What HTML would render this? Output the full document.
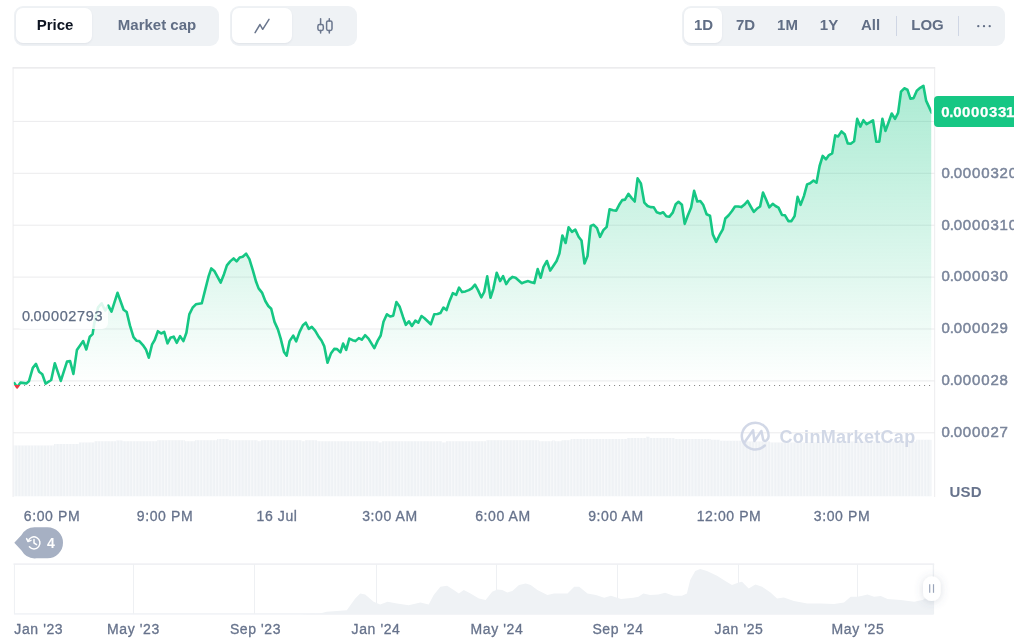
<!DOCTYPE html>
<html lang="en"><head><meta charset="utf-8"><title>Price chart</title>
<style>
html,body{margin:0;padding:0;background:#fff;}
body{width:1017px;height:642px;overflow:hidden;position:relative;font-family:"Liberation Sans",sans-serif;}
.seg{position:absolute;top:6px;height:40px;background:#eff2f5;border-radius:9px;box-sizing:border-box;}
.pill{position:absolute;top:2px;height:35px;background:#fff;border-radius:7px;box-shadow:0 1px 2px rgba(88,102,126,.10);}
.lbl{position:absolute;top:0;height:40px;line-height:38px;font-size:15px;font-weight:bold;color:#616e85;white-space:nowrap;transform:translateX(-50%);}
.dark{color:#0d1421;}
.div{position:absolute;top:10px;height:20px;width:1px;background:#cfd6e4;}
svg{position:absolute;left:0;top:0;}
.seg,svg{will-change:transform;}
svg text{font-family:"Liberation Sans",sans-serif;}
</style></head><body>

<div class="seg" style="left:14px;width:205px;">
  <div class="pill" style="left:2px;width:76px;"></div>
  <span class="lbl dark" style="left:41px;">Price</span>
  <span class="lbl" style="left:143px;">Market cap</span>
</div>
<div class="seg" style="left:230px;width:127px;">
  <div class="pill" style="left:2px;width:60px;"></div>
</div>
<div class="seg" style="left:682px;width:323px;">
  <div class="pill" style="left:2px;width:38px;"></div>
  <span class="lbl" style="left:21.5px;">1D</span>
  <span class="lbl" style="left:63.5px;">7D</span>
  <span class="lbl" style="left:105.5px;">1M</span>
  <span class="lbl" style="left:147px;">1Y</span>
  <span class="lbl" style="left:188.5px;">All</span>
  <div class="div" style="left:214px;"></div>
  <span class="lbl" style="left:245.5px;">LOG</span>
  <div class="div" style="left:276px;"></div>
</div>

<svg width="1017" height="642" viewBox="0 0 1017 642">
  <defs>
    <linearGradient id="ag" x1="0" y1="68" x2="0" y2="385" gradientUnits="userSpaceOnUse">
      <stop offset="0" stop-color="#16c784" stop-opacity="0.38"/>
      <stop offset="1" stop-color="#16c784" stop-opacity="0"/>
    </linearGradient>
    <pattern id="vb" x="14" y="0" width="3.19" height="10" patternUnits="userSpaceOnUse">
      <rect x="0" y="0" width="1.1" height="10" fill="#fff" fill-opacity="0.5"/>
    </pattern>
    <clipPath id="above"><rect x="13.8" y="0" width="917.6" height="385"/></clipPath>
    <clipPath id="below"><rect x="13.8" y="385" width="917.6" height="100"/></clipPath>
    <filter id="sh" x="-50%" y="-50%" width="200%" height="200%"><feDropShadow dx="0" dy="1" stdDeviation="4" flood-color="#58667e" flood-opacity="0.22"/></filter>
  </defs>

  <!-- chart frame -->
  <g stroke="#ececee" stroke-width="1" fill="none">
    <line x1="12.6" x2="935.2" y1="67.9" y2="67.9" stroke="#e6e6e8" stroke-width="1.3"/>
    <line x1="13.1" x2="13.1" y1="67.5" y2="497"/>
    <line x1="934.7" x2="934.7" y1="67.5" y2="497"/>
    <g stroke="#ebebed"><line x1="13" x2="935" y1="121.4" y2="121.4"/><line x1="13" x2="935" y1="173.3" y2="173.3"/><line x1="13" x2="935" y1="225.2" y2="225.2"/><line x1="13" x2="935" y1="277.1" y2="277.1"/><line x1="13" x2="935" y1="329.0" y2="329.0"/><line x1="13" x2="935" y1="380.9" y2="380.9"/><line x1="13" x2="935" y1="432.8" y2="432.8"/></g>
  </g>

  <!-- volume -->
  <path d="M13.5,496.3 L13.5,445.4 L54,445.4 L54,444 L79,444 L79,442.6 L94.5,442.6 L94.5,441.3 L116,441.3 L116,440.4 L122.5,440.4 L122.5,441.3 L157,441.3 L157,440.2 L185,440.2 L185,441.3 L195,441.3 L195,440.2 L217,440.2 L217,439 L229,439 L229,440.2 L257.5,440.2 L257.5,441.3 L261,441.3 L261,440.2 L301.5,440.2 L301.5,441.3 L305,441.3 L305,440.2 L317,440.2 L317,441.3 L378.5,441.3 L378.5,442.4 L382,442.4 L382,441.3 L442,441.3 L442,442.4 L446,442.4 L446,441.3 L486,441.3 L486,440.2 L539,440.2 L539,441.3 L552,441.3 L552,440.6 L555,440.6 L555,441.3 L561.6,441.3 L561.6,440.2 L570.6,440.2 L570.6,439 L627,439 L627,437.9 L646,437.9 L646,436.8 L649.5,436.8 L649.5,437.9 L674.5,437.9 L674.5,439 L711,439 L711,439.8 L720,439.8 L720,440.8 L742,440.8 L742,441.6 L770,441.6 L770,442.5 L835,442.5 L835,441.6 L916,441.6 L916,439.8 L931.5,439.8 L931.5,496.3 Z" fill="#eff2f5"/>
  <path d="M13.5,496.3 L13.5,445.4 L54,445.4 L54,444 L79,444 L79,442.6 L94.5,442.6 L94.5,441.3 L116,441.3 L116,440.4 L122.5,440.4 L122.5,441.3 L157,441.3 L157,440.2 L185,440.2 L185,441.3 L195,441.3 L195,440.2 L217,440.2 L217,439 L229,439 L229,440.2 L257.5,440.2 L257.5,441.3 L261,441.3 L261,440.2 L301.5,440.2 L301.5,441.3 L305,441.3 L305,440.2 L317,440.2 L317,441.3 L378.5,441.3 L378.5,442.4 L382,442.4 L382,441.3 L442,441.3 L442,442.4 L446,442.4 L446,441.3 L486,441.3 L486,440.2 L539,440.2 L539,441.3 L552,441.3 L552,440.6 L555,440.6 L555,441.3 L561.6,441.3 L561.6,440.2 L570.6,440.2 L570.6,439 L627,439 L627,437.9 L646,437.9 L646,436.8 L649.5,436.8 L649.5,437.9 L674.5,437.9 L674.5,439 L711,439 L711,439.8 L720,439.8 L720,440.8 L742,440.8 L742,441.6 L770,441.6 L770,442.5 L835,442.5 L835,441.6 L916,441.6 L916,439.8 L931.5,439.8 L931.5,496.3 Z" fill="url(#vb)"/>

  <!-- watermark -->
  <g opacity="0.9">
    <path d="M764.8,445.5 A13.4,13.4 0 1 1 768.65,435.9 Q768.6,438.2 767,439.9 Q764.9,442 763.2,439.8 L761.4,430.9 L754.4,441 L753.1,430.2 L744.4,442.4" fill="none" stroke="#cdd4e4" stroke-width="2.5" stroke-linecap="round" stroke-linejoin="round"/>
    <text x="779.5" y="442.5" font-size="18" font-weight="bold" fill="#cdd4e4" letter-spacing="0.3">CoinMarketCap</text>
  </g>

  <!-- area + line -->
  <path d="M14.3,385.0 L14.3,383.0 L17.1,387.3 L20.5,382.6 L26.3,383.4 L28.9,381.3 L32.8,367.9 L36.0,363.9 L39.1,371.8 L42.3,374.2 L45.6,383.6 L51.2,380.0 L54.8,363.2 L60.8,380.9 L67.0,361.6 L70.1,361.1 L73.4,373.9 L76.9,350.1 L83.2,341.1 L86.3,349.5 L89.8,336.7 L92.6,334.1 L94.2,323.8 L98.1,307.3 L101.6,303.4 L105.2,310.5 L108.3,305.7 L111.5,311.7 L117.5,292.8 L123.6,309.7 L126.7,312.0 L129.9,325.4 L133.5,337.2 L136.7,340.8 L139.3,341.1 L142.9,345.1 L146.1,349.8 L148.8,357.7 L152.1,344.3 L154.7,340.0 L157.9,331.2 L161.2,333.5 L164.2,331.9 L167.5,343.3 L170.4,337.8 L173.7,336.6 L176.7,342.8 L180.1,336.1 L183.4,341.1 L186.4,332.7 L189.3,314.4 L192.6,307.7 L195.9,304.3 L201.8,303.2 L205.1,290.1 L208.5,276.7 L211.3,268.4 L214.3,270.9 L220.7,282.6 L224.0,274.2 L226.9,265.4 L230.2,261.4 L233.6,258.4 L236.6,261.4 L239.7,257.5 L242.7,256.7 L246.1,253.7 L249.4,259.2 L252.8,270.1 L256.1,281.8 L258.6,288.4 L262.0,292.6 L265.3,301.0 L268.3,306.0 L271.2,308.8 L274.5,321.9 L277.9,329.4 L280.7,338.6 L284.0,352.0 L286.7,355.6 L289.6,341.1 L293.2,335.6 L296.2,341.4 L299.6,331.9 L302.9,325.2 L305.8,322.7 L308.8,328.9 L311.8,326.9 L315.1,330.6 L318.8,336.9 L321.5,340.5 L324.2,346.1 L327.5,362.8 L330.9,353.6 L334.2,348.9 L337.1,349.1 L340.4,352.4 L343.1,343.6 L346.2,349.9 L349.3,338.6 L352.6,340.2 L355.4,341.1 L358.8,338.1 L361.8,339.7 L365.1,335.2 L368.5,338.6 L374.3,348.2 L377.7,340.6 L380.7,335.5 L383.5,321.8 L386.9,314.3 L390.2,316.5 L393.2,315.7 L396.4,302.1 L399.7,306.8 L403.1,317.2 L405.8,324.8 L408.9,321.3 L411.9,326.0 L415.3,320.7 L418.3,322.7 L421.5,316.0 L424.5,318.2 L430.8,324.3 L434.2,314.3 L437.5,314.0 L440.4,313.1 L443.4,307.6 L446.5,310.1 L449.6,300.9 L452.9,293.1 L456.2,294.8 L459.1,287.6 L462.1,292.1 L465.4,291.4 L468.8,290.1 L471.8,288.4 L475.0,284.7 L478.0,290.1 L481.3,297.3 L484.2,292.0 L487.2,276.4 L490.5,297.8 L493.4,288.6 L496.7,272.7 L500.1,281.1 L503.1,276.1 L506.2,284.1 L509.3,279.4 L512.6,276.9 L515.6,277.7 L521.8,283.3 L525.1,281.9 L528.1,281.1 L531.3,282.3 L534.3,283.1 L537.7,269.1 L540.7,277.7 L543.5,266.9 L546.9,261.0 L550.2,270.6 L553.6,265.5 L556.6,261.0 L559.4,253.5 L562.4,235.5 L565.6,243.0 L568.6,227.3 L571.9,231.8 L575.3,229.6 L578.6,236.8 L581.5,240.5 L584.5,263.5 L587.5,256.0 L590.7,225.9 L593.7,224.8 L597.0,228.1 L600.0,236.8 L603.4,230.1 L606.7,226.8 L609.6,209.2 L613.0,210.2 L616.2,210.7 L619.2,204.8 L622.2,200.1 L625.0,199.6 L628.4,193.8 L631.7,198.1 L634.7,201.5 L637.6,178.4 L640.9,183.4 L644.3,202.6 L647.6,206.0 L650.6,207.1 L653.8,207.3 L656.8,212.3 L660.2,213.5 L663.2,212.3 L666.3,216.3 L669.3,216.8 L672.7,212.7 L675.7,204.3 L678.5,201.8 L681.9,204.8 L684.7,223.9 L687.7,215.7 L691.1,207.6 L694.1,190.9 L697.3,201.5 L700.3,201.0 L703.3,205.1 L706.6,214.3 L710.0,215.7 L712.8,234.4 L716.2,241.9 L719.5,235.2 L722.8,229.4 L725.3,218.5 L728.7,215.2 L732.0,211.0 L735.0,206.5 L738.2,206.5 L741.2,207.1 L744.2,204.8 L747.6,201.0 L750.4,206.0 L753.8,211.8 L756.8,208.8 L760.1,206.5 L763.0,192.6 L766.3,200.1 L769.3,207.3 L772.7,203.8 L775.5,206.0 L778.5,207.6 L782.0,215.0 L785.0,215.3 L788.4,221.1 L791.4,221.1 L794.6,216.1 L797.6,196.9 L800.6,204.9 L803.9,196.1 L807.1,184.4 L810.1,183.2 L813.5,180.5 L816.5,182.7 L819.6,166.0 L822.7,155.9 L826.0,159.3 L829.0,155.1 L832.2,153.4 L835.2,135.4 L838.2,136.4 L841.5,131.4 L844.7,134.2 L847.7,143.4 L850.7,143.7 L854.1,141.2 L857.2,118.9 L860.3,126.6 L863.4,120.2 L866.6,124.2 L870.1,122.2 L873.0,120.3 L876.3,141.7 L879.3,141.7 L882.4,118.8 L885.5,130.9 L888.8,121.7 L891.7,113.5 L895.0,118.8 L898.1,112.9 L901.0,91.7 L904.3,88.3 L907.4,89.7 L910.4,98.6 L913.6,98.1 L916.8,90.7 L920.2,87.8 L923.4,85.8 L926.1,100.6 L931.6,112.6 L931.6,385.0 Z" fill="url(#ag)" clip-path="url(#above)"/>
  <line x1="24" x2="931" y1="385.5" y2="385.5" stroke="#8a8a8a" stroke-width="1.1" stroke-dasharray="1.1 3.9"/>
  <polyline points="14.3,383.0 17.1,387.3 20.5,382.6 26.3,383.4 28.9,381.3 32.8,367.9 36.0,363.9 39.1,371.8 42.3,374.2 45.6,383.6 51.2,380.0 54.8,363.2 60.8,380.9 67.0,361.6 70.1,361.1 73.4,373.9 76.9,350.1 83.2,341.1 86.3,349.5 89.8,336.7 92.6,334.1 94.2,323.8 98.1,307.3 101.6,303.4 105.2,310.5 108.3,305.7 111.5,311.7 117.5,292.8 123.6,309.7 126.7,312.0 129.9,325.4 133.5,337.2 136.7,340.8 139.3,341.1 142.9,345.1 146.1,349.8 148.8,357.7 152.1,344.3 154.7,340.0 157.9,331.2 161.2,333.5 164.2,331.9 167.5,343.3 170.4,337.8 173.7,336.6 176.7,342.8 180.1,336.1 183.4,341.1 186.4,332.7 189.3,314.4 192.6,307.7 195.9,304.3 201.8,303.2 205.1,290.1 208.5,276.7 211.3,268.4 214.3,270.9 220.7,282.6 224.0,274.2 226.9,265.4 230.2,261.4 233.6,258.4 236.6,261.4 239.7,257.5 242.7,256.7 246.1,253.7 249.4,259.2 252.8,270.1 256.1,281.8 258.6,288.4 262.0,292.6 265.3,301.0 268.3,306.0 271.2,308.8 274.5,321.9 277.9,329.4 280.7,338.6 284.0,352.0 286.7,355.6 289.6,341.1 293.2,335.6 296.2,341.4 299.6,331.9 302.9,325.2 305.8,322.7 308.8,328.9 311.8,326.9 315.1,330.6 318.8,336.9 321.5,340.5 324.2,346.1 327.5,362.8 330.9,353.6 334.2,348.9 337.1,349.1 340.4,352.4 343.1,343.6 346.2,349.9 349.3,338.6 352.6,340.2 355.4,341.1 358.8,338.1 361.8,339.7 365.1,335.2 368.5,338.6 374.3,348.2 377.7,340.6 380.7,335.5 383.5,321.8 386.9,314.3 390.2,316.5 393.2,315.7 396.4,302.1 399.7,306.8 403.1,317.2 405.8,324.8 408.9,321.3 411.9,326.0 415.3,320.7 418.3,322.7 421.5,316.0 424.5,318.2 430.8,324.3 434.2,314.3 437.5,314.0 440.4,313.1 443.4,307.6 446.5,310.1 449.6,300.9 452.9,293.1 456.2,294.8 459.1,287.6 462.1,292.1 465.4,291.4 468.8,290.1 471.8,288.4 475.0,284.7 478.0,290.1 481.3,297.3 484.2,292.0 487.2,276.4 490.5,297.8 493.4,288.6 496.7,272.7 500.1,281.1 503.1,276.1 506.2,284.1 509.3,279.4 512.6,276.9 515.6,277.7 521.8,283.3 525.1,281.9 528.1,281.1 531.3,282.3 534.3,283.1 537.7,269.1 540.7,277.7 543.5,266.9 546.9,261.0 550.2,270.6 553.6,265.5 556.6,261.0 559.4,253.5 562.4,235.5 565.6,243.0 568.6,227.3 571.9,231.8 575.3,229.6 578.6,236.8 581.5,240.5 584.5,263.5 587.5,256.0 590.7,225.9 593.7,224.8 597.0,228.1 600.0,236.8 603.4,230.1 606.7,226.8 609.6,209.2 613.0,210.2 616.2,210.7 619.2,204.8 622.2,200.1 625.0,199.6 628.4,193.8 631.7,198.1 634.7,201.5 637.6,178.4 640.9,183.4 644.3,202.6 647.6,206.0 650.6,207.1 653.8,207.3 656.8,212.3 660.2,213.5 663.2,212.3 666.3,216.3 669.3,216.8 672.7,212.7 675.7,204.3 678.5,201.8 681.9,204.8 684.7,223.9 687.7,215.7 691.1,207.6 694.1,190.9 697.3,201.5 700.3,201.0 703.3,205.1 706.6,214.3 710.0,215.7 712.8,234.4 716.2,241.9 719.5,235.2 722.8,229.4 725.3,218.5 728.7,215.2 732.0,211.0 735.0,206.5 738.2,206.5 741.2,207.1 744.2,204.8 747.6,201.0 750.4,206.0 753.8,211.8 756.8,208.8 760.1,206.5 763.0,192.6 766.3,200.1 769.3,207.3 772.7,203.8 775.5,206.0 778.5,207.6 782.0,215.0 785.0,215.3 788.4,221.1 791.4,221.1 794.6,216.1 797.6,196.9 800.6,204.9 803.9,196.1 807.1,184.4 810.1,183.2 813.5,180.5 816.5,182.7 819.6,166.0 822.7,155.9 826.0,159.3 829.0,155.1 832.2,153.4 835.2,135.4 838.2,136.4 841.5,131.4 844.7,134.2 847.7,143.4 850.7,143.7 854.1,141.2 857.2,118.9 860.3,126.6 863.4,120.2 866.6,124.2 870.1,122.2 873.0,120.3 876.3,141.7 879.3,141.7 882.4,118.8 885.5,130.9 888.8,121.7 891.7,113.5 895.0,118.8 898.1,112.9 901.0,91.7 904.3,88.3 907.4,89.7 910.4,98.6 913.6,98.1 916.8,90.7 920.2,87.8 923.4,85.8 926.1,100.6 931.6,112.6" fill="none" stroke="#16c784" stroke-width="2.6" stroke-linejoin="round" stroke-linecap="round" clip-path="url(#above)"/>
  <polyline points="14.3,383.0 17.1,387.3 20.5,382.6 26.3,383.4 28.9,381.3 32.8,367.9 36.0,363.9 39.1,371.8 42.3,374.2 45.6,383.6 51.2,380.0 54.8,363.2 60.8,380.9 67.0,361.6 70.1,361.1 73.4,373.9 76.9,350.1 83.2,341.1 86.3,349.5 89.8,336.7 92.6,334.1 94.2,323.8 98.1,307.3 101.6,303.4 105.2,310.5 108.3,305.7 111.5,311.7 117.5,292.8 123.6,309.7 126.7,312.0 129.9,325.4 133.5,337.2 136.7,340.8 139.3,341.1 142.9,345.1 146.1,349.8 148.8,357.7 152.1,344.3 154.7,340.0 157.9,331.2 161.2,333.5 164.2,331.9 167.5,343.3 170.4,337.8 173.7,336.6 176.7,342.8 180.1,336.1 183.4,341.1 186.4,332.7 189.3,314.4 192.6,307.7 195.9,304.3 201.8,303.2 205.1,290.1 208.5,276.7 211.3,268.4 214.3,270.9 220.7,282.6 224.0,274.2 226.9,265.4 230.2,261.4 233.6,258.4 236.6,261.4 239.7,257.5 242.7,256.7 246.1,253.7 249.4,259.2 252.8,270.1 256.1,281.8 258.6,288.4 262.0,292.6 265.3,301.0 268.3,306.0 271.2,308.8 274.5,321.9 277.9,329.4 280.7,338.6 284.0,352.0 286.7,355.6 289.6,341.1 293.2,335.6 296.2,341.4 299.6,331.9 302.9,325.2 305.8,322.7 308.8,328.9 311.8,326.9 315.1,330.6 318.8,336.9 321.5,340.5 324.2,346.1 327.5,362.8 330.9,353.6 334.2,348.9 337.1,349.1 340.4,352.4 343.1,343.6 346.2,349.9 349.3,338.6 352.6,340.2 355.4,341.1 358.8,338.1 361.8,339.7 365.1,335.2 368.5,338.6 374.3,348.2 377.7,340.6 380.7,335.5 383.5,321.8 386.9,314.3 390.2,316.5 393.2,315.7 396.4,302.1 399.7,306.8 403.1,317.2 405.8,324.8 408.9,321.3 411.9,326.0 415.3,320.7 418.3,322.7 421.5,316.0 424.5,318.2 430.8,324.3 434.2,314.3 437.5,314.0 440.4,313.1 443.4,307.6 446.5,310.1 449.6,300.9 452.9,293.1 456.2,294.8 459.1,287.6 462.1,292.1 465.4,291.4 468.8,290.1 471.8,288.4 475.0,284.7 478.0,290.1 481.3,297.3 484.2,292.0 487.2,276.4 490.5,297.8 493.4,288.6 496.7,272.7 500.1,281.1 503.1,276.1 506.2,284.1 509.3,279.4 512.6,276.9 515.6,277.7 521.8,283.3 525.1,281.9 528.1,281.1 531.3,282.3 534.3,283.1 537.7,269.1 540.7,277.7 543.5,266.9 546.9,261.0 550.2,270.6 553.6,265.5 556.6,261.0 559.4,253.5 562.4,235.5 565.6,243.0 568.6,227.3 571.9,231.8 575.3,229.6 578.6,236.8 581.5,240.5 584.5,263.5 587.5,256.0 590.7,225.9 593.7,224.8 597.0,228.1 600.0,236.8 603.4,230.1 606.7,226.8 609.6,209.2 613.0,210.2 616.2,210.7 619.2,204.8 622.2,200.1 625.0,199.6 628.4,193.8 631.7,198.1 634.7,201.5 637.6,178.4 640.9,183.4 644.3,202.6 647.6,206.0 650.6,207.1 653.8,207.3 656.8,212.3 660.2,213.5 663.2,212.3 666.3,216.3 669.3,216.8 672.7,212.7 675.7,204.3 678.5,201.8 681.9,204.8 684.7,223.9 687.7,215.7 691.1,207.6 694.1,190.9 697.3,201.5 700.3,201.0 703.3,205.1 706.6,214.3 710.0,215.7 712.8,234.4 716.2,241.9 719.5,235.2 722.8,229.4 725.3,218.5 728.7,215.2 732.0,211.0 735.0,206.5 738.2,206.5 741.2,207.1 744.2,204.8 747.6,201.0 750.4,206.0 753.8,211.8 756.8,208.8 760.1,206.5 763.0,192.6 766.3,200.1 769.3,207.3 772.7,203.8 775.5,206.0 778.5,207.6 782.0,215.0 785.0,215.3 788.4,221.1 791.4,221.1 794.6,216.1 797.6,196.9 800.6,204.9 803.9,196.1 807.1,184.4 810.1,183.2 813.5,180.5 816.5,182.7 819.6,166.0 822.7,155.9 826.0,159.3 829.0,155.1 832.2,153.4 835.2,135.4 838.2,136.4 841.5,131.4 844.7,134.2 847.7,143.4 850.7,143.7 854.1,141.2 857.2,118.9 860.3,126.6 863.4,120.2 866.6,124.2 870.1,122.2 873.0,120.3 876.3,141.7 879.3,141.7 882.4,118.8 885.5,130.9 888.8,121.7 891.7,113.5 895.0,118.8 898.1,112.9 901.0,91.7 904.3,88.3 907.4,89.7 910.4,98.6 913.6,98.1 916.8,90.7 920.2,87.8 923.4,85.8 926.1,100.6 931.6,112.6" fill="none" stroke="#ea3943" stroke-width="2.6" stroke-linejoin="round" stroke-linecap="round" clip-path="url(#below)"/>

  <!-- open price label -->
  <rect x="16" y="302" width="92" height="27" rx="6" fill="#fff" fill-opacity="0.86"/>
  <text x="22" y="320.7" font-size="14.5" fill="#616e85" stroke="#616e85" stroke-width="0.25" letter-spacing="0.67">0<tspan dx="-1">.</tspan><tspan dx="-1">00002793</tspan></text>

  <!-- y axis -->
  <g font-size="15" fill="#7a859b" letter-spacing="0.85" stroke="#7a859b" stroke-width="0.5"><text x="941.6" y="177.6">0<tspan dx="-1.1">.</tspan><tspan dx="-1.1">0000320</tspan></text><text x="941.6" y="229.5">0<tspan dx="-1.1">.</tspan><tspan dx="-1.1">0000310</tspan></text><text x="941.6" y="281.4">0<tspan dx="-1.1">.</tspan><tspan dx="-1.1">000030</tspan></text><text x="941.6" y="333.3">0<tspan dx="-1.1">.</tspan><tspan dx="-1.1">000029</tspan></text><text x="941.6" y="385.2">0<tspan dx="-1.1">.</tspan><tspan dx="-1.1">000028</tspan></text><text x="941.6" y="437.1">0<tspan dx="-1.1">.</tspan><tspan dx="-1.1">000027</tspan></text></g>
  <path d="M1014,96 H938 a4,4 0 0 0 -4,4 V123 a4,4 0 0 0 4,4 H1014 Z" fill="#16c784"/>
  <text x="941.2" y="117.2" font-size="15" font-weight="bold" fill="#fff" stroke="#fff" stroke-width="0.25" letter-spacing="0.62">0<tspan dx="-0.9">.</tspan><tspan dx="-0.9">000033</tspan><tspan dx="-1">1</tspan></text>
  <rect x="1014" y="60" width="3" height="460" fill="#fff"/>
  <text x="949.6" y="496.6" font-size="15" font-weight="bold" fill="#67738c" letter-spacing="0.1">USD</text>

  <!-- x axis -->
  <g font-size="14" fill="#67738c" stroke="#67738c" stroke-width="0.3" letter-spacing="0.6"><text x="52" y="521" text-anchor="middle">6:00 PM</text><text x="165" y="521" text-anchor="middle">9:00 PM</text><text x="277" y="521" text-anchor="middle">16 Jul</text><text x="390" y="521" text-anchor="middle">3:00 AM</text><text x="503" y="521" text-anchor="middle">6:00 AM</text><text x="616" y="521" text-anchor="middle">9:00 AM</text><text x="729" y="521" text-anchor="middle">12:00 PM</text><text x="842" y="521" text-anchor="middle">3:00 PM</text></g>

  <!-- events badge -->
  <path d="M14.3,542.8 L21.5,535 A15.5,15.5 0 0 1 36.5,527.3 H47.5 A15.5,15.5 0 0 1 47.5,558.3 H36.5 A15.5,15.5 0 0 1 21.5,550.6 Z" fill="#a6b0c3"/>
  <g fill="none" stroke="#fff" stroke-width="1.5" stroke-linecap="round" stroke-linejoin="round">
    <path d="M28.2,541.2 A6,6 0 1 1 29.4,546.8"/>
    <path d="M26.6,538.6 L28.1,541.6 L31,540.4"/>
    <path d="M34,539.4 V543 L36.6,544.6"/>
  </g>
  <text x="47" y="547.6" font-size="14" font-weight="bold" fill="#fff">4</text>

  <!-- navigator -->
  <g stroke="#eef0f3" stroke-width="1" fill="none">
    <line x1="13.5" x2="934.2" y1="564.2" y2="564.2" stroke="#f0f1f4" stroke-width="1.8"/>
    <line x1="14.4" x2="14.4" y1="564" y2="614"/>
    <line x1="933.4" x2="933.4" y1="564" y2="614" stroke-width="1.4"/>
    <line x1="133.5" x2="133.5" y1="564" y2="614"/><line x1="254.5" x2="254.5" y1="564" y2="614"/><line x1="376.5" x2="376.5" y1="564" y2="614"/><line x1="496.5" x2="496.5" y1="564" y2="614"/><line x1="617.5" x2="617.5" y1="564" y2="614"/><line x1="738.5" x2="738.5" y1="564" y2="614"/><line x1="857.5" x2="857.5" y1="564" y2="614"/>
  </g>
  <path d="M14,614.5 L14,614.3 L300,614.3 L320,613.5 L326.7,611.8 L346.8,610.2 L355.2,598.5 L360.2,593.4 L365.2,594.5 L373.6,601.8 L380.2,604.5 L387.6,601.8 L397,603.5 L408.7,605.2 L420.4,602.5 L428.7,604.5 L433.7,595.1 L440.4,586.8 L447.1,585.8 L453.8,590.1 L458.8,593.4 L463.8,590.1 L470.5,593.4 L478.9,598.5 L485.6,600.1 L492.2,591.8 L497.3,589.4 L502.3,590.1 L507.3,592.4 L512.3,591.1 L519,585.1 L525.7,583.4 L530.7,585.1 L537.4,590.1 L547.4,595.1 L554.1,593.4 L567.5,593.4 L574.2,586.8 L579.2,586.8 L587.5,593.4 L595.9,595.1 L604.2,597.8 L610.9,595.8 L621,599.1 L633.4,597.8 L638.4,596.8 L643.4,593.4 L650.1,595.1 L658.4,594.5 L665.1,592.8 L673.5,595.8 L681.9,595.8 L686.9,593.4 L690.2,580.1 L695.2,571 L700.2,569 L706.9,571 L717,575.7 L725.3,581.1 L732,585.1 L738.7,582.4 L742,581.7 L748.7,588.4 L755.4,584.4 L762.1,586.8 L770.5,592.4 L777.1,598.5 L783.8,597.5 L793.9,601.1 L807.2,603.5 L820.6,603.5 L834,604.1 L844,602.5 L850.7,596.8 L857.4,596.8 L862.4,595.8 L867.4,594.5 L874.1,596.8 L880.8,596.1 L887.5,599.1 L900.8,600.1 L914.2,601.8 L922.6,600.1 L927.6,596.8 L933.6,595.1 L933.6,614.5 Z" fill="#eff2f5"/>
  <rect x="14" y="613.2" width="919.6" height="1.3" fill="#eff2f5"/>
  <g font-size="14" fill="#67738c" stroke="#67738c" stroke-width="0.3" letter-spacing="0.6"><text x="14.3" y="633.9">Jan '23</text><text x="133.5" y="633.9" text-anchor="middle">May '23</text><text x="255.5" y="633.9" text-anchor="middle">Sep '23</text><text x="376" y="633.9" text-anchor="middle">Jan '24</text><text x="497" y="633.9" text-anchor="middle">May '24</text><text x="618" y="633.9" text-anchor="middle">Sep '24</text><text x="739" y="633.9" text-anchor="middle">Jan '25</text><text x="858" y="633.9" text-anchor="middle">May '25</text></g>
  <rect x="923" y="576.3" width="17.6" height="24.7" rx="8.8" fill="#fff" filter="url(#sh)"/>
  <g stroke="#9aa5ba" stroke-width="1.2"><line x1="929.7" x2="929.7" y1="584.2" y2="592.8"/><line x1="933.5" x2="933.5" y1="584.2" y2="592.8"/></g>

  <!-- toolbar icons -->
  <g fill="#616e85"><circle cx="978.3" cy="26.2" r="1.15"/><circle cx="984" cy="26.2" r="1.15"/><circle cx="989.7" cy="26.2" r="1.15"/></g>
  <polyline points="255.1,32.6 260,24.5 262.7,29.3 269,19.3" fill="none" stroke="#6a768d" stroke-width="1.5" stroke-linejoin="round" stroke-linecap="round"/>
  <g fill="none" stroke="#6a768d" stroke-width="1.5" stroke-linecap="round">
    <line x1="320.6" x2="320.6" y1="18.8" y2="24.5"/><line x1="320.6" x2="320.6" y1="30.4" y2="32.9"/>
    <rect x="317.9" y="24.6" width="5.4" height="5.8" rx="1.6"/>
    <line x1="329.3" x2="329.3" y1="18.8" y2="21"/><line x1="329.3" x2="329.3" y1="30.4" y2="32.9"/>
    <rect x="326.6" y="21" width="5.4" height="9.4" rx="1.6"/>
  </g>
</svg>
</body></html>
